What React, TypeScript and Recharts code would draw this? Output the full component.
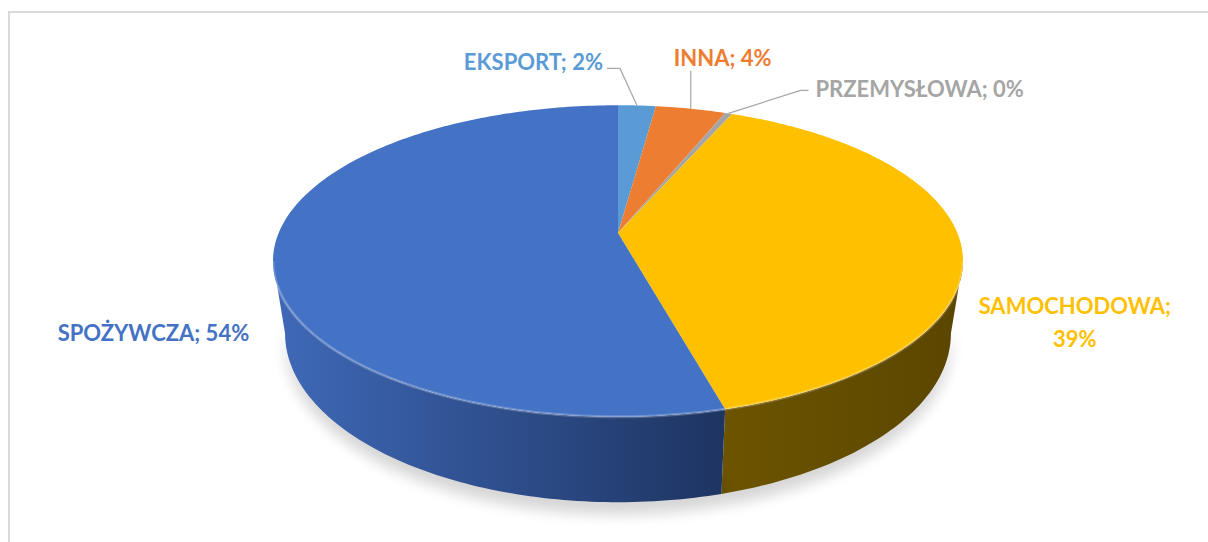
import React from 'react'
import { PieChart, Pie } from 'recharts'

const categories = ['EKSPORT', 'INNA', 'PRZEMYSŁOWA', 'SAMOCHODOWA', 'SPOŻYWCZA']
const shares = [2.1, 3.9, 0.4, 39.4, 54.2]
const topColors = ['#5B9BD5', '#ED7D31', '#A5A5A5', '#FFC000', '#4472C4']
const sideFrom = ['#3F79AF', '#B65C20', '#7E7E7E', '#6C5400', '#3F69B8']
const sideTo = ['#2D5A86', '#8C4515', '#666666', '#5B4600', '#1E3461']

const data = categories.map((name, i) => ({ name, value: shares[i] }))

// fake 3d: tilted disc with a little perspective
// (cx/cy are inside the chart's default 5px margin)
const CX = 613
const CY = 228
const R = 345
const PERSP = 0.18
const SQUASH = 0.437
const DEPTH = 70
const SHRINK = 0.965
const T_LEFT = (Math.acos(-PERSP) * 180) / Math.PI
const T_RIGHT = 360 - T_LEFT

function project(cx: number, cy: number, r: number, tDeg: number, drop = 0) {
  const t = (tDeg * Math.PI) / 180
  const d = 1 + PERSP * Math.cos(t)
  const a = r * Math.sqrt(1 - PERSP * PERSP)
  let x = (a * Math.sin(t)) / d
  const y = (-r * SQUASH * Math.cos(t)) / d + drop / d
  if (drop) x *= SHRINK
  return [cx + x, cy + y]
}

function arcPoints(cx: number, cy: number, r: number, t0: number, t1: number, drop = 0) {
  const n = Math.max(2, Math.ceil(Math.abs(t1 - t0)))
  const pts: number[][] = []
  for (let i = 0; i <= n; i++) pts.push(project(cx, cy, r, t0 + ((t1 - t0) * i) / n, drop))
  return pts
}

const toPath = (pts: number[][]) => pts.map((p, i) => `${i ? 'L' : 'M'}${p[0].toFixed(2)},${p[1].toFixed(2)}`).join(' ')

const TopShape = (props: any) => {
  const { cx, cy, outerRadius, startAngle, endAngle, index } = props
  const t0 = 90 - startAngle
  const t1 = 90 - endAngle
  const pts = [[cx, cy], ...arcPoints(cx, cy, outerRadius, t0, t1)]
  const s0 = Math.max(t0, T_LEFT)
  const s1 = Math.min(t1, T_RIGHT)
  return (
    <g>
      <path d={toPath(pts) + ' Z'} fill={topColors[index]} />
      {s1 > s0 && (
        <path d={toPath(arcPoints(cx, cy, outerRadius, s0, s1))} fill="none" stroke="rgba(255,255,255,0.22)" strokeWidth={3} />
      )}
    </g>
  )
}

const SideShape = (props: any) => {
  const { cx, cy, outerRadius, startAngle, endAngle, index } = props
  const s0 = Math.max(90 - startAngle, T_LEFT)
  const s1 = Math.min(90 - endAngle, T_RIGHT)
  if (s1 <= s0) return <g />
  const top = arcPoints(cx, cy, outerRadius, s0, s1)
  const bottom = arcPoints(cx, cy, outerRadius, s1, s0, DEPTH)
  return (
    <g>
      <defs>
        <linearGradient id={`side${index}`} x1="0" y1="0" x2="1" y2="0">
          <stop offset="0%" stopColor={sideFrom[index]} />
          <stop offset="100%" stopColor={sideTo[index]} />
        </linearGradient>
        <filter id={`blur${index}`} x="-20%" y="-50%" width="140%" height="200%">
          <feGaussianBlur stdDeviation="7" />
        </filter>
      </defs>
      <path
        d={toPath([...arcPoints(cx, cy, outerRadius, s0, s1, DEPTH - 14), ...arcPoints(cx, cy, outerRadius, s1, s0, DEPTH + 10)]) + ' Z'}
        fill="#000"
        opacity={0.16}
        filter={`url(#blur${index})`}
      />
      <path d={toPath([...top, ...bottom]) + ' Z'} fill={`url(#side${index})`} />
    </g>
  )
}

// label offsets from the slice's rim point
const labelLayout = [
  { dx: -34, dy: -44, anchor: 'end', line: [[-17, -37], [-30, -37]] },
  { dx: 32, dy: -51, anchor: 'middle', line: [[0, -38]] },
  { dx: 87, dy: -25, anchor: 'start', line: [[72, -23], [80, -23]] },
  { dx: 114, dy: 61, anchor: 'middle', line: [] },
  { dx: -120, dy: 79, anchor: 'middle', line: [] },
]

const renderLabel = (props: any) => {
  const { cx, cy, outerRadius, midAngle, index, percent } = props
  const [ax, ay] = project(cx, cy, outerRadius, 90 - midAngle)
  const lay = labelLayout[index]
  const pct = `${Math.round(percent * 100)}%`
  const name = categories[index]
  const color = topColors[index]
  const linePts = [[ax, ay], ...lay.line.map((p) => [ax + p[0], ay + p[1]])]
  const tx = ax + lay.dx
  const ty = ay + lay.dy
  const font = { fontFamily: 'Lato, "Noto Sans", sans-serif', fontWeight: 700, fontSize: 22 }
  return (
    <g>
      {lay.line.length > 0 && <path d={toPath(linePts)} fill="none" stroke="#A6A6A6" strokeWidth={1.2} />}
      {index === 3 ? (
        <text x={tx} y={ty} fill={color} textAnchor="middle" dominantBaseline="central" style={font}>
          <tspan x={tx} dy={0}>{name};</tspan>
          <tspan x={tx} dy={33}>{pct}</tspan>
        </text>
      ) : (
        <text x={tx} y={ty} fill={color} textAnchor={lay.anchor as any} dominantBaseline="central" style={font}>
          {`${name}; ${pct}`}
        </text>
      )}
    </g>
  )
}

export default function App() {
  return (
    <div style={{ position: 'absolute', left: 0, top: 0, width: 1208, height: 542, background: '#fff', overflow: 'hidden' }}>
      <div
        style={{
          position: 'absolute', left: 8, top: 11, width: 1210, height: 540,
          borderLeft: '2px solid #D9D9D9', borderTop: '2px solid #D9D9D9',
        }}
      />
      <div style={{ position: 'absolute', left: 0, top: 0 }}>
        <PieChart width={1208} height={542}>
          <Pie
            data={data}
            dataKey="value"
            nameKey="name"
            cx={CX}
            cy={CY}
            outerRadius={R}
            startAngle={90}
            endAngle={-270}
            stroke="none"
            shape={SideShape}
            activeShape={SideShape}
            inactiveShape={SideShape}
            isAnimationActive={false}
          />
          <Pie
            data={data}
            dataKey="value"
            nameKey="name"
            cx={CX}
            cy={CY}
            outerRadius={R}
            startAngle={90}
            endAngle={-270}
            stroke="none"
            shape={TopShape}
            activeShape={TopShape}
            inactiveShape={TopShape}
            label={renderLabel}
            labelLine={false}
            isAnimationActive={false}
          />
        </PieChart>
      </div>
    </div>
  )
}
